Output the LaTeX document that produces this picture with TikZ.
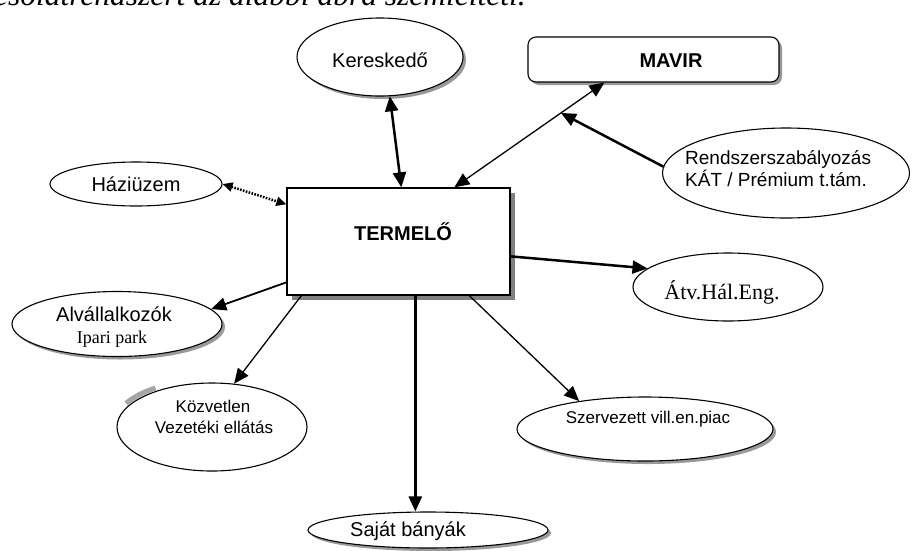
\documentclass[tikz,border=0pt]{standalone}
\usepackage{fontspec}
\setmainfont{Liberation Serif}
\newfontfamily\arial{Liberation Sans}
\usetikzlibrary{shapes.geometric,arrows.meta,calc,shadows}
\begin{document}
\begin{tikzpicture}[x=1pt,y=-1pt,
  ell/.style={ellipse, draw, fill=white, line width=1.1pt, inner sep=0pt},
  boxst/.style={rectangle, draw, fill=white, line width=1.3pt, inner sep=0pt},
  shad/.style={drop shadow={shadow xshift=3pt, shadow yshift=-3pt, opacity=1, fill=gray!80}},
  bigshad/.style={drop shadow={shadow xshift=5pt, shadow yshift=-5pt, opacity=1, fill=gray}},
  sfA/.style={font=\arial\fontsize{20}{24}\selectfont, inner sep=0pt, anchor=base},
  sfB/.style={font=\arial\bfseries\fontsize{20}{24}\selectfont, inner sep=0pt, anchor=base},
  sfC/.style={font=\arial\fontsize{17}{21}\selectfont, inner sep=0pt, anchor=base},
  sfD/.style={font=\arial\fontsize{19}{22}\selectfont, inner sep=0pt, anchor=base west},
  rmA/.style={font=\fontsize{22}{26}\selectfont, inner sep=0pt, anchor=base},
  rmB/.style={font=\fontsize{18}{22}\selectfont, inner sep=0pt, anchor=base},
  thk/.style={line width=2.5pt},
  med/.style={line width=1.8pt},
  thn/.style={line width=1.3pt},
  dotline/.style={line width=2.5pt, dash pattern=on 1.6pt off 1.4pt},
  arrE/.style={-{Triangle[length=15pt,width=13pt]}},
  arrB/.style={{Triangle[length=15pt,width=13pt]}-{Triangle[length=15pt,width=13pt]}},
  arrBs/.style={{Triangle[length=10pt,width=9pt]}-{Triangle[length=10pt,width=9pt]}},
]
\useasboundingbox (0,0) rectangle (912,550);

% cropped intro line of the page
\node[anchor=base east, inner sep=0pt, font=\itshape\fontsize{31.5}{36}\selectfont] (intro) at (526,5) {kapcsolatrendszert az alábbi ábra szemlélteti.};

% Kereskedő
\node[ell, shad, minimum width=166pt, minimum height=78pt] (ker) at (380,57) {};
\node[sfA] (kert) at (380,67) {Kereskedő};

% MAVIR
\node[boxst, line width=1.1pt, rounded corners=8pt, shad, minimum width=251pt, minimum height=45pt] (mavir) at (653.5,59.5) {};
\node[sfB] (mavirt) at (671,67) {MAVIR};

% Rendszerszabályozás
\node[ell, minimum width=247pt, minimum height=90pt] (rend) at (786,173) {};
\node[sfD] (rendt1) at (685,164) {Rendszerszabályozás};
\node[sfD] (rendt2) at (685,186) {KÁT / Prémium t.tám.};

% TERMELŐ
\node[boxst, bigshad, minimum width=223pt, minimum height=107pt] (term) at (398.5,241.5) {};
\node[sfB] (termt) at (403,240) {TERMELŐ};

% Háziüzem
\node[ell, minimum width=172pt, minimum height=44pt] (haz) at (136,184) {};
\node[sfA] (hazt) at (136,191) {Háziüzem};

% Átv.Hál.Eng.
\node[ell, minimum width=190pt, minimum height=68pt] (atv) at (728,287) {};
\node[rmA] (atvt) at (722,299) {Átv.Hál.Eng.};

% Alvállalkozók
\node[ell, shad, minimum width=210pt, minimum height=65pt] (alv) at (117,324) {};
\node[sfA] (alvt1) at (114,321) {Alvállalkozók};
\node[rmB] (alvt2) at (112,343) {Ipari park};

% Közvetlen
\draw[line width=5pt, gray!70] ($(212,427)+(-2,-3)+(-152:95 and 44)$) arc[start angle=-152, end angle=-125, x radius=95, y radius=44];
\node[ell, minimum width=190pt, minimum height=88pt] (kozv) at (212,427) {};
\node[sfC] (kozvt1) at (213,412) {Közvetlen};
\node[sfC] (kozvt2) at (214,433) {Vezetéki ellátás};

% Szervezett
\node[ell, shad, minimum width=256pt, minimum height=64pt] (szerv) at (645,429) {};
\node[sfC] (szervt) at (648,423) {Szervezett vill.en.piac};

% Saját bányák
\node[ell, shad, minimum width=240pt, minimum height=36pt] (saj) at (428,530) {};
\node[sfA] (sajt) at (408,536) {Saját bányák};

% connectors
\draw[thk, arrB] (ker.-76) -- ([xshift=115pt]term.north west);
\coordinate (mavA) at ([xshift=77pt]mavir.south west);
\coordinate (termA) at ([xshift=168pt]term.north west);
\draw[thn, arrB] (mavA) -- (termA);
\coordinate (mid) at ($(mavA)!0.29!(termA)$);
\draw[thk, arrE] (rend.177) -- (mid);
\draw[thk, arrE] ([yshift=-69pt]term.north east) -- (atv.167);
\draw[dotline, arrBs] (haz.east) -- ([yshift=-17pt]term.north west);
\draw[med, arrE] ([yshift=-95pt]term.north west) -- (alv.9);
\draw[thn, arrE] ([xshift=15pt]term.south west) -- (kozv.63);
\draw[thn, arrE] ([xshift=183pt]term.south west) -- (szerv.157);
\coordinate (tS) at ([xshift=129pt]term.south west);
\draw[thk, arrE] (tS) -- (tS |- saj.north);
\end{tikzpicture}
\end{document}
